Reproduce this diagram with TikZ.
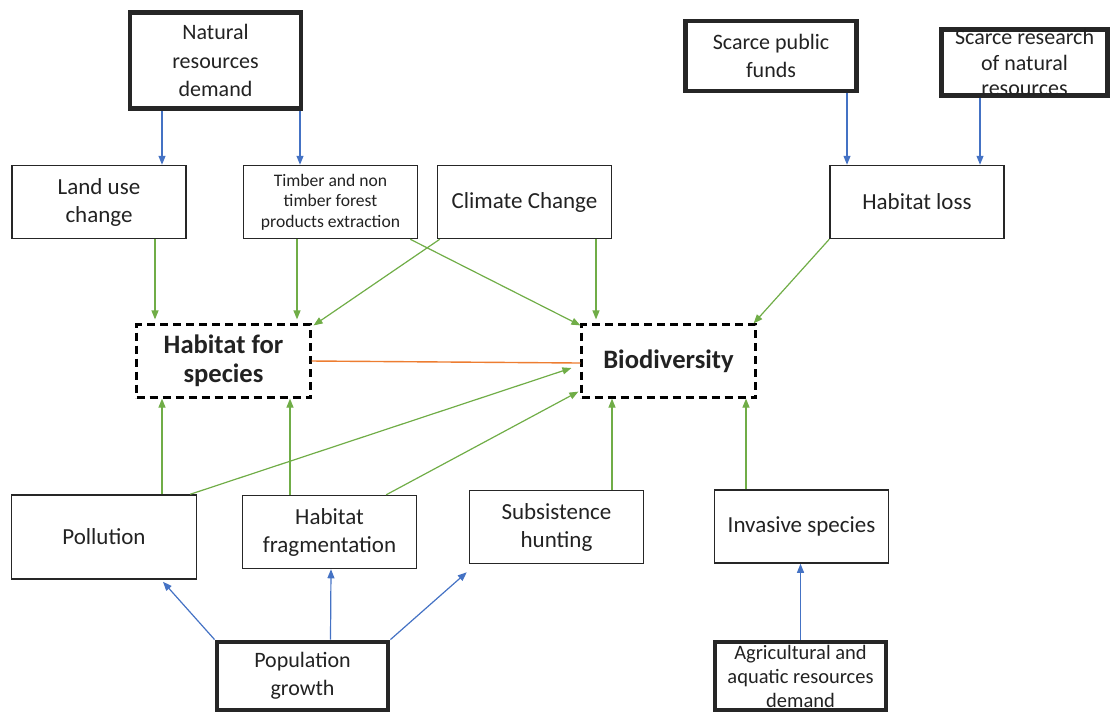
\documentclass[tikz,border=0pt]{standalone}
\usepackage{fontspec}
\setmainfont{Carlito}
\usetikzlibrary{arrows.meta}

\definecolor{bluelink}{HTML}{4472C4}
\definecolor{greenlink}{HTML}{70AD47}
\definecolor{orangelink}{HTML}{ED7D31}
\definecolor{inktext}{HTML}{222222}

\tikzset{
    box/.style={draw=black!85, line width=0.75pt, minimum width=87pt, minimum height=36.5pt,
        align=center, inner sep=1pt, text=inktext, font=\fontsize{11.5}{14}\selectfont},
    rootbox/.style={box, line width=2.4pt, minimum width=85.5pt, minimum height=34pt,
        font=\fontsize{11}{14}\selectfont},
    corebox/.style={box, draw=black, dash pattern=on 4pt off 2.5pt, line width=1.1pt,
        font=\bfseries\fontsize{13.3}{14.5}\selectfont},
    cause/.style={draw=bluelink, line width=0.6pt, -{Triangle[length=4.5pt,width=3.5pt]}},
    effect/.style={draw=greenlink, line width=0.6pt, -{Triangle[length=4.5pt,width=3.5pt]}},
    tie/.style={draw=orangelink, line width=0.7pt}
}

\begin{document}
\begin{tikzpicture}[x=0.5pt,y=-0.5pt]
\useasboundingbox (0,0) rectangle (1112,714);

% ===== Root causes =====
\node[rootbox, minimum height=48pt, font=\fontsize{11}{14.25}\selectfont] (nrd) at (215.5,60.5) {Natural\\resources\\demand};
\node[rootbox, minimum height=35pt] (spf) at (771,56) {Scarce public\\funds};
\node[rootbox, inner sep=0pt, minimum width=83pt, minimum height=33pt, font=\fontsize{11}{12.75}\selectfont] (srn) at (1024.5,62.5) {Scarce research\\of natural\\resources};
\node[rootbox] (pg) at (302.5,676) {Population\\growth};
\node[rootbox, inner sep=0pt, font=\fontsize{10.25}{12}\selectfont] (ard) at (800.5,676) {Agricultural and\\aquatic resources\\demand};

% ===== Direct threats =====
\node[box] (luc) at (99,202) {Land use\\change};
\node[box, font=\fontsize{8.8}{10.25}\selectfont] (tim) at (330.5,202) {Timber and non\\timber forest\\products extraction};
\node[box] (cc) at (524.5,202) {Climate Change};
\node[box] (hl) at (917,202) {Habitat loss};
\node[box, minimum width=92.5pt, minimum height=42pt] (pol) at (104,537) {Pollution};
\node[box] (hf) at (329.5,532) {Habitat\\fragmentation};
\node[box] (sh) at (556.5,527) {Subsistence\\hunting};
\node[box] (is) at (801.5,526.5) {Invasive species};

% ===== Targets =====
\node[corebox] (hfs) at (223.5,361) {Habitat for\\species};
\node[corebox] (bio) at (668.5,361) {Biodiversity};

% ===== Blue arrows =====
\draw[cause] ([xshift=-26.75pt]nrd.south) -- ([xshift=31.5pt]luc.north);
\draw[cause] ([xshift=42.25pt]nrd.south) -- ([xshift=-15.25pt]tim.north);
\draw[cause] ([xshift=38pt]spf.south) -- ([xshift=-35pt]hl.north);
\draw[cause] ([xshift=-22.25pt]srn.south) -- ([xshift=31.5pt]hl.north);
\draw[cause] (pg.north west) -- ([shift={(29.5pt,-1pt)}]pol.south);
\draw[cause] ([xshift=14pt]pg.north) -- ([xshift=0.75pt]hf.south);
\draw[cause] (pg.north east) -- ([shift={(-1pt,-4pt)}]sh.south west);
\draw[cause] (ard.north) -- (ard.north |- is.south);

% ===== Green arrows =====
\draw[effect] ([xshift=28pt]luc.south) -- ([shift={(-34.25pt,2pt)}]hfs.north);
\draw[effect] ([xshift=-16.75pt]tim.south) -- ([shift={(36.75pt,2pt)}]hfs.north);
\draw[effect] ([xshift=1.5pt]cc.south west) -- ([shift={(1pt,-1pt)}]hfs.north east);
\draw[effect] ([xshift=-4pt]tim.south east) -- ([yshift=-1pt]bio.north west);
\draw[effect] ([xshift=35.75pt]cc.south) -- ([shift={(-36.25pt,2pt)}]bio.north);
\draw[effect] (hl.south west) -- ([xshift=-1.5pt]bio.north east);
\draw[effect] ([xshift=29pt]pol.north) -- ([xshift=-30.75pt]hfs.south);
\draw[effect] ([xshift=-19.75pt]hf.north) -- ([xshift=33.25pt]hfs.south);
\draw[effect] ([xshift=-3.5pt]pol.north east) -- ([shift={(-4.5pt,-3.5pt)}]bio.west);
\draw[effect] ([xshift=-15.5pt]hf.north east) -- ([shift={(-1pt,3.5pt)}]bio.south west);
\draw[effect] ([xshift=27.75pt]sh.north) -- ([xshift=-28.25pt]bio.south);
\draw[effect] ([xshift=-27.75pt]is.north) -- ([xshift=38.75pt]bio.south);

% ===== Orange link =====
\draw[tie] (hfs.east) -- ([yshift=-1pt]bio.west);

\end{tikzpicture}
\end{document}
